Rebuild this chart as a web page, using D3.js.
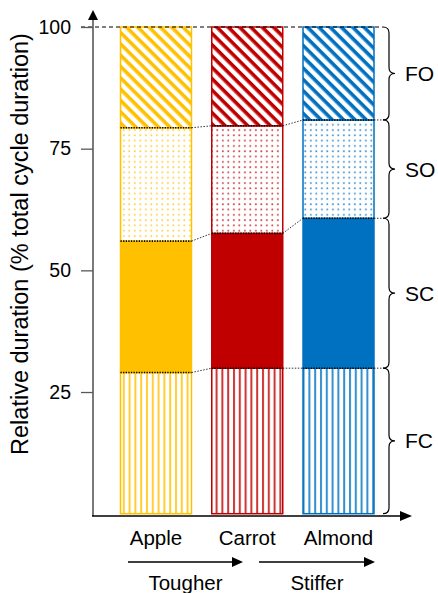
<!DOCTYPE html>
<html>
<head>
<meta charset="utf-8">
<script src="https://cdn.jsdelivr.net/npm/d3@7/dist/d3.min.js"></script>
<style>
  body { margin: 0; background: #fff; }
  text { font-family: "Liberation Sans", Arial, sans-serif; fill: #000; }
</style>
</head>
<body>
<div id="chart"></div>
<script>
// data
var categories = ["Apple", "Carrot", "Almond"];
var colors = ["#FFC000", "#C00000", "#0070C0"];
var phases = ["FC", "SC", "SO", "FO"];
var fc = [29.0, 29.9, 29.9];
var sc = [27.0, 27.7, 30.8];
var so = [23.3, 22.1, 20.2];
var fo = [20.7, 20.3, 19.1];
var yTicks = [25, 50, 75, 100];
var trendLabels = ["Tougher", "Stiffer"];

var width = 438, height = 593;

var svg = d3.select("#chart").append("svg")
    .attr("width", width)
    .attr("height", height);

var y = d3.scaleLinear().domain([0, 100]).range([513.7, 27]);
var x = d3.scaleBand().domain(categories).range([120.5, 374]).paddingInner(0.222).paddingOuter(0);

var axisX = 93, axisY = 516;

// patterns, one set per colour
var defs = svg.append("defs");
colors.forEach(function(c, i) {
    // FO: diagonal stripes
    var p1 = defs.append("pattern")
        .attr("id", "fo" + i)
        .attr("patternUnits", "userSpaceOnUse")
        .attr("width", 8).attr("height", 8)
        .attr("patternTransform", "rotate(45)");
    p1.append("rect").attr("width", 8).attr("height", 8).attr("fill", "#fff");
    p1.append("rect").attr("x", 0).attr("y", 0).attr("width", 8).attr("height", 3.6).attr("fill", c);

    // SO: dots
    var p2 = defs.append("pattern")
        .attr("id", "so" + i)
        .attr("patternUnits", "userSpaceOnUse")
        .attr("width", 5.5).attr("height", 5.3);
    p2.append("rect").attr("width", 5.5).attr("height", 5.3).attr("fill", "#fff");
    p2.append("rect").attr("x", 2).attr("y", 2).attr("width", 1.7).attr("height", 1.7)
        .attr("fill", c).attr("opacity", 0.75);

    // FC: vertical lines
    var p3 = defs.append("pattern")
        .attr("id", "fc" + i)
        .attr("patternUnits", "userSpaceOnUse")
        .attr("width", 5.8).attr("height", 10);
    p3.append("rect").attr("width", 5.8).attr("height", 10).attr("fill", "#fff");
    p3.append("rect").attr("x", 1).attr("y", 0).attr("width", 2).attr("height", 10)
        .attr("fill", c).attr("opacity", 0.8);
});

// stacked segments
var stackData = categories.map(function(cat, i) {
    return { cat: cat, i: i, FC: fc[i], SC: sc[i], SO: so[i], FO: fo[i] };
});
var series = d3.stack().keys(phases)(stackData);

series.forEach(function(s) {
    svg.append("g").selectAll("rect")
        .data(s)
        .enter()
        .append("rect")
            .attr("x", function(d) { return x(d.data.cat); })
            .attr("y", function(d) { return y(d[1]); })
            .attr("width", x.bandwidth())
            .attr("height", function(d) { return y(d[0]) - y(d[1]); })
            .attr("fill", function(d) {
                var i = d.data.i;
                if (s.key === "SC") return colors[i];
                return "url(#" + s.key.toLowerCase() + i + ")";
            })
            .attr("stroke", function(d) { return colors[d.data.i]; })
            .attr("stroke-width", 1.5);
});

// boundaries: dotted across bar tops + connectors between bars
var braceX = 389;
var boundaryKeys = ["FC", "SC", "SO"];
boundaryKeys.forEach(function(key) {
    var s = series[phases.indexOf(key)];
    s.forEach(function(d, j) {
        var x0 = x(d.data.cat), x1 = x0 + x.bandwidth();
        svg.append("line")
            .attr("x1", x0).attr("x2", x1)
            .attr("y1", y(d[1])).attr("y2", y(d[1]))
            .attr("stroke", "#000").attr("stroke-width", 1.6)
            .attr("stroke-dasharray", "1.3,1.3");
        var nx, ny;
        if (j < s.length - 1) {
            nx = x(s[j + 1].data.cat);
            ny = y(s[j + 1][1]);
        } else {
            nx = braceX - 6;
            ny = y(d[1]);
        }
        svg.append("line")
            .attr("x1", x1).attr("x2", nx)
            .attr("y1", y(d[1])).attr("y2", ny)
            .attr("stroke", "#333").attr("stroke-width", 1)
            .attr("stroke-dasharray", "1.5,1.5");
    });
});

// dashed line at 100
svg.append("line")
    .attr("x1", 81).attr("x2", braceX - 6)
    .attr("y1", y(100)).attr("y2", y(100))
    .attr("stroke", "#000").attr("stroke-width", 1.2)
    .attr("stroke-dasharray", "4,3");

// y axis
var yAxis = svg.append("g")
    .attr("transform", "translate(" + axisX + ",0)")
    .call(d3.axisLeft(y).tickValues(yTicks).tickSize(12).tickPadding(10).tickSizeOuter(0));
yAxis.select(".domain").remove();
yAxis.selectAll(".tick line").attr("stroke", "#595959").attr("stroke-width", 1.3);
yAxis.selectAll(".tick text")
    .style("font-family", "'Liberation Sans', Arial, sans-serif")
    .style("font-size", "19.5px")
    .attr("fill", "#000");

svg.append("line")
    .attr("x1", axisX).attr("x2", axisX)
    .attr("y1", axisY).attr("y2", 19)
    .attr("stroke", "#595959").attr("stroke-width", 1.6);
svg.append("path")
    .attr("d", "M" + (axisX - 5) + ",20 L" + axisX + ",10 L" + (axisX + 5) + ",20 Z")
    .attr("fill", "#000");

// x axis
svg.append("line")
    .attr("x1", axisX - 1).attr("x2", 401)
    .attr("y1", axisY).attr("y2", axisY)
    .attr("stroke", "#000").attr("stroke-width", 1.6);
svg.append("path")
    .attr("d", "M400," + (axisY - 5) + " L412," + axisY + " L400," + (axisY + 5) + " Z")
    .attr("fill", "#000");

// category labels
svg.append("g").selectAll("text")
    .data(categories)
    .enter()
    .append("text")
        .attr("x", function(d) { return x(d) + x.bandwidth() / 2; })
        .attr("y", 545)
        .attr("text-anchor", "middle")
        .style("font-size", "20.5px")
        .text(function(d) { return d; });

// y label
svg.append("text")
    .attr("transform", "translate(28,244) rotate(-90)")
    .attr("text-anchor", "middle")
    .style("font-size", "23.5px")
    .text("Relative duration (% total cycle duration)");

// braces + phase labels
function bracePath(bx, y1, y2) {
    var m = (y1 + y2) / 2, r = 6;
    return "M" + (bx - r) + "," + y1 +
        " Q" + bx + "," + y1 + " " + bx + "," + (y1 + r) +
        " L" + bx + "," + (m - r) +
        " Q" + bx + "," + m + " " + (bx + r) + "," + m +
        " Q" + bx + "," + m + " " + bx + "," + (m + r) +
        " L" + bx + "," + (y2 - r) +
        " Q" + bx + "," + y2 + " " + (bx - r) + "," + y2;
}
var last = series.map(function(s) { return s[s.length - 1]; });
last.forEach(function(d, k) {
    var y1 = y(d[1]), y2 = y(d[0]);
    svg.append("path")
        .attr("d", bracePath(braceX, y1, y2))
        .attr("fill", "none")
        .attr("stroke", "#000")
        .attr("stroke-width", 1.2);
    svg.append("text")
        .attr("x", 405)
        .attr("y", (y1 + y2) / 2 + 7.5)
        .style("font-size", "21px")
        .text(phases[k]);
});

// trend arrows under the categories
var trendArrows = [[128, 243], [259, 375]];
trendArrows.forEach(function(a, k) {
    svg.append("line")
        .attr("x1", a[0]).attr("x2", a[1] - 10)
        .attr("y1", 562).attr("y2", 562)
        .attr("stroke", "#000").attr("stroke-width", 1.6);
    svg.append("path")
        .attr("d", "M" + (a[1] - 11) + ",557 L" + a[1] + ",562 L" + (a[1] - 11) + ",567 Z")
        .attr("fill", "#000");
    svg.append("text")
        .attr("x", (a[0] + a[1]) / 2)
        .attr("y", 590)
        .attr("text-anchor", "middle")
        .style("font-size", "20.5px")
        .text(trendLabels[k]);
});
</script>
</body>
</html>
